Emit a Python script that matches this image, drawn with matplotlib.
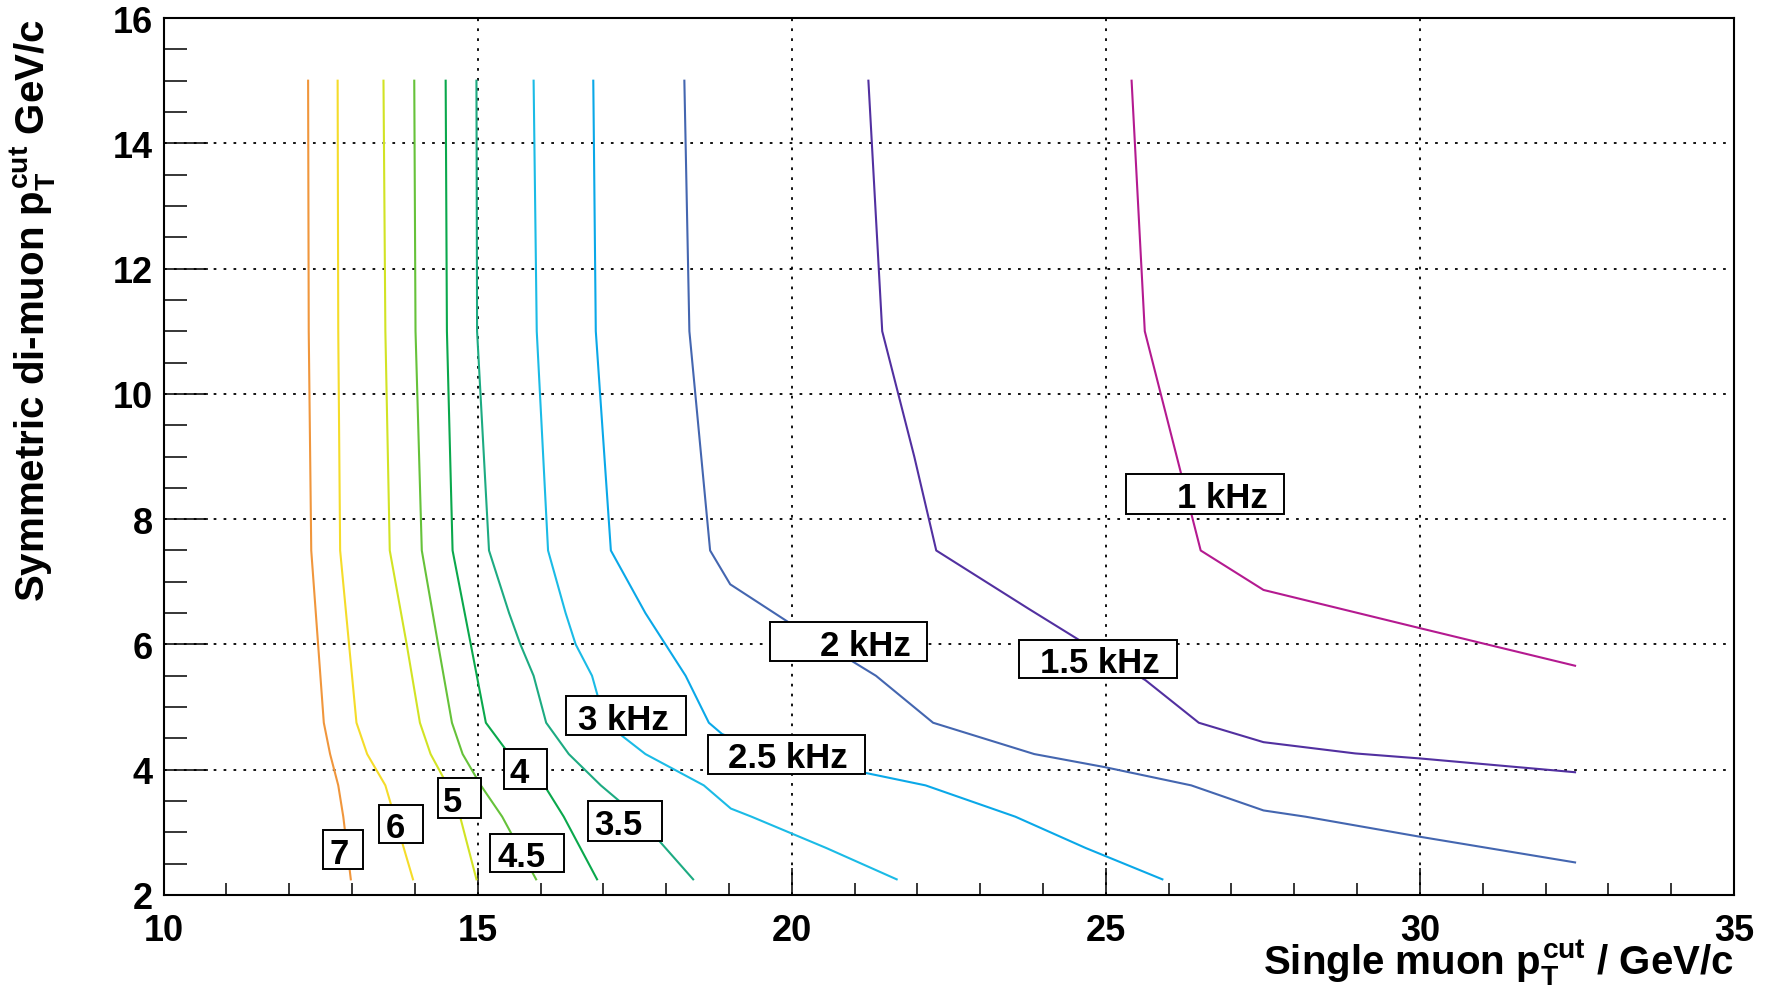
import matplotlib
matplotlib.use("Agg")
import matplotlib.pyplot as plt
from matplotlib.patches import Rectangle
from matplotlib.ticker import MultipleLocator

plt.rcParams['font.family'] = ['Liberation Sans', 'DejaVu Sans']
plt.rcParams['font.weight'] = 'bold'
plt.rcParams['mathtext.fontset'] = 'custom'
plt.rcParams['mathtext.rm'] = 'Liberation Sans:bold'
plt.rcParams['mathtext.it'] = 'Liberation Sans:bold'
plt.rcParams['mathtext.bf'] = 'Liberation Sans:bold'


# Rate contours: single muon cut (x) vs di-muon cut (y)
c7_x = [12.30, 12.31, 12.35, 12.55, 12.65, 12.78, 12.86, 12.98]
c7_y = [15, 11, 7.5, 4.75, 4.25, 3.75, 3.25, 2.25]

c6_x = [12.77, 12.78, 12.81, 13.07, 13.24, 13.53, 13.97]
c6_y = [15, 11, 7.5, 4.75, 4.25, 3.75, 2.25]

c5_x = [13.50, 13.53, 13.60, 13.87, 14.08, 14.25, 14.52, 14.72, 14.98]
c5_y = [15, 11, 7.5, 6.0, 4.75, 4.25, 3.75, 3.25, 2.25]

c45_x = [13.99, 14.01, 14.11, 14.37, 14.59, 14.76, 15.05, 15.39, 15.93]
c45_y = [15, 11, 7.5, 6.0, 4.75, 4.25, 3.75, 3.25, 2.25]

c4_x = [14.49, 14.51, 14.60, 14.89, 15.13, 15.50, 16.06, 16.37, 16.90]
c4_y = [15, 11, 7.5, 6.0, 4.75, 4.25, 3.75, 3.25, 2.25]

c35_x = [14.98, 14.99, 15.18, 15.50, 15.68, 15.89, 16.09, 16.45, 16.96, 17.55, 18.43]
c35_y = [15, 11, 7.5, 6.5, 6.0, 5.5, 4.75, 4.25, 3.75, 3.25, 2.25]

c3_x = [15.89, 15.94, 16.12, 16.40, 16.56, 16.82, 17.03, 17.67, 18.60, 19.03, 19.36, 20.55, 21.67]
c3_y = [15, 11, 7.5, 6.5, 6.0, 5.5, 4.75, 4.25, 3.75, 3.38, 3.25, 2.75, 2.25]

c25_x = [16.84, 16.88, 17.12, 17.67, 17.99, 18.31, 18.68, 18.89, 19.7, 21.17, 22.13, 23.56, 24.68, 25.90]
c25_y = [15, 11, 7.5, 6.5, 6.0, 5.5, 4.75, 4.57, 4.25, 3.95, 3.75, 3.25, 2.75, 2.25]

c2_x = [18.29, 18.37, 18.70, 19.02, 19.94, 21.34, 22.25, 23.86, 24.99, 26.36, 27.51, 28.18, 30.0, 32.47]
c2_y = [15, 11, 7.5, 6.96, 6.36, 5.5, 4.75, 4.25, 4.04, 3.75, 3.35, 3.25, 2.93, 2.52]

c15_x = [21.22, 21.44, 21.95, 22.30, 23.77, 24.56, 25.63, 26.48, 27.51, 28.97, 30.0, 32.47]
c15_y = [15, 11, 9.0, 7.5, 6.57, 6.08, 5.43, 4.75, 4.44, 4.26, 4.18, 3.96]

c1_x = [25.41, 25.62, 26.51, 27.51, 30.0, 32.47]
c1_y = [15, 11, 7.5, 6.87, 6.26, 5.66]

curves = [(c7_x, c7_y), (c6_x, c6_y), (c5_x, c5_y), (c45_x, c45_y), (c4_x, c4_y),
          (c35_x, c35_y), (c3_x, c3_y), (c25_x, c25_y), (c2_x, c2_y),
          (c15_x, c15_y), (c1_x, c1_y)]
colors = ['#f0963c', '#f5dc2a', '#d2e324', '#66c23a', '#0aa84c', '#1dab82',
          '#1bbbe6', '#0aa8e8', '#4466b0', '#5230a0', '#b41a90']

# contour labels: text, box (x0, x1, y0, y1) and text left edge, data units
label_text = ['7', '6', '5', '4.5', '4', '3.5', '3 kHz', '2.5 kHz', '2 kHz', '1.5 kHz', '1 kHz']
label_box = [(12.53, 13.18, 2.42, 3.03), (13.43, 14.13, 2.83, 3.44), (14.36, 15.05, 3.23, 3.86),
             (15.19, 16.38, 2.36, 2.97), (15.42, 16.11, 3.70, 4.33), (16.75, 17.94, 2.87, 3.50),
             (16.41, 18.31, 4.56, 5.17), (18.66, 21.17, 3.93, 4.56), (19.66, 22.16, 5.73, 6.36),
             (23.61, 26.13, 5.46, 6.07), (25.32, 27.83, 8.09, 8.72)]
label_tx = [12.64, 13.54, 14.45, 15.32, 15.51, 16.86, 16.59, 18.98, 20.45, 23.95, 26.13]


fig = plt.figure(figsize=(17.69, 9.87), dpi=100)
ax = fig.add_axes([0.0925, 0.0922, 0.8877, 0.8885])

for (xs, ys), c in zip(curves, colors):
    ax.plot(xs, ys, color=c, lw=1.5, zorder=3)

for t, (x0, x1, y0, y1), tx in zip(label_text, label_box, label_tx):
    ax.add_patch(Rectangle((x0, y0), x1 - x0, y1 - y0, facecolor='white',
                           edgecolor='black', lw=1.4, zorder=4))
    ax.text(tx, (y0 + y1) / 2, t, fontsize=25, fontweight='bold',
            ha='left', va='center_baseline', zorder=5)

ax.set_xlim(10, 35)
ax.set_ylim(2, 16)
ax.xaxis.set_major_locator(MultipleLocator(5))
ax.xaxis.set_minor_locator(MultipleLocator(1))
ax.yaxis.set_major_locator(MultipleLocator(2))
ax.yaxis.set_minor_locator(MultipleLocator(0.5))

ax.grid(True, which='major', color='black', ls=(0, (1.5, 4)), lw=1.3, zorder=1)

ax.tick_params(axis='x', which='major', direction='in', length=19.5, width=1.1,
               labelsize=26, pad=13, top=False)
ax.tick_params(axis='x', which='minor', direction='in', length=9, width=1.1, top=False)
ax.tick_params(axis='y', which='major', direction='in', length=32, width=1.1,
               labelsize=26, pad=8, right=False)
ax.tick_params(axis='y', which='minor', direction='in', length=16.5, width=1.1, right=False)
for lab in ax.get_xticklabels() + ax.get_yticklabels():
    lab.set_fontweight('bold')

for s in ax.spines.values():
    s.set_linewidth(1.5)

ax.text(1.0, -0.09, r'Single muon $p_{T}^{cut}$ / GeV/c', transform=ax.transAxes,
        fontsize=29, fontweight='bold', ha='right', va='baseline')
ax.text(-0.083, 1.0, r'Symmetric di-muon $p_{T}^{cut}$ GeV/c', transform=ax.transAxes,
        fontsize=29, fontweight='bold', ha='center', va='top', rotation=90)

fig.savefig('out.png', dpi=100)
